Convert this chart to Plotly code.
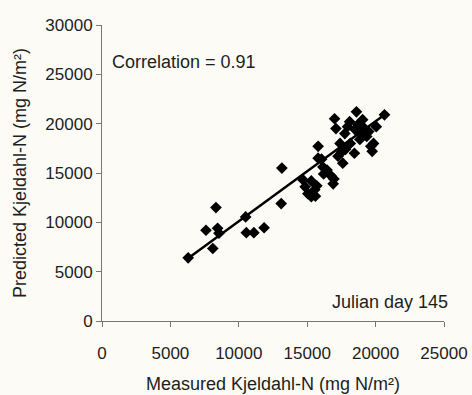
import plotly.graph_objects as go

# Measured vs predicted Kjeldahl-N (mg N/m²), Julian day 145
measured = [6300, 7600, 8330, 8100, 8450, 8550, 10500, 10550, 11100, 11850, 13150, 13100,
            14700, 14850, 15050, 15300, 15600, 15550, 15300, 15700, 15800, 15800, 16050,
            16150, 16200, 16450, 16750, 16900, 16950, 17000, 17100, 17250, 17400, 17500,
            17600, 17750, 17800, 17950, 18100, 18150, 18450, 18500, 18600, 18700, 18850,
            18950, 19050, 19200, 19350, 19500, 19650, 19750, 19850, 20050, 20650]
predicted = [6400, 9200, 11500, 7350, 9400, 8900, 10550, 8950, 8950, 9450, 15500, 11900,
             14300, 13600, 12900, 12600, 12650, 13300, 14200, 13700, 16500, 17700, 16400,
             15600, 14900, 15300, 14700, 13900, 14400, 20500, 19500, 16700, 18000, 17100,
             16000, 19000, 17400, 19700, 20200, 18000, 17000, 19400, 21200, 19900, 18400,
             19000, 20400, 19500, 18700, 19200, 17700, 17200, 18000, 19700, 20900]

fit_x = [6300, 20700]
fit_y = [6350, 20950]

x_ticks = [0, 5000, 10000, 15000, 20000, 25000]
y_ticks = [0, 5000, 10000, 15000, 20000, 25000, 30000]

bg = "#fcfbf5"
txt = "#1e1e1e"
axc = "#777777"
font_family = "Liberation Sans, Arial, sans-serif"

fig = go.Figure()
fig.add_trace(go.Scatter(x=fit_x, y=fit_y, mode="lines",
                         line=dict(color="black", width=2.5), showlegend=False,
                         hoverinfo="skip"))
fig.add_trace(go.Scatter(x=measured, y=predicted, mode="markers",
                         marker=dict(symbol="diamond", size=9, color="black"),
                         showlegend=False))

fig.update_layout(
    width=472, height=395,
    margin=dict(l=102, r=28, t=25, b=74),
    paper_bgcolor=bg, plot_bgcolor=bg,
    font=dict(family=font_family, size=17, color=txt),
    xaxis=dict(range=[0, 25000], tickvals=x_ticks, ticktext=[str(v) for v in x_ticks],
               showgrid=False, zeroline=False, showline=True, linecolor=axc, linewidth=1,
               ticks="outside", ticklen=5, tickcolor=axc, automargin=False,
               ticklabelstandoff=12,
               title=dict(text="Measured Kjeldahl-N (mg N/m²)", standoff=14,
                          font=dict(size=18, color=txt))),
    yaxis=dict(range=[0, 30000], tickvals=y_ticks, ticktext=[str(v) for v in y_ticks],
               showgrid=False, zeroline=False, showline=True, linecolor=axc, linewidth=1,
               ticks="outside", ticklen=5, tickcolor=axc, automargin=False,
               title=dict(text="Predicted Kjeldahl-N (mg N/m²)", standoff=14,
                          font=dict(size=18, color=txt))),
    annotations=[
        dict(text="Correlation = 0.91", xref="paper", yref="paper",
             x=(110 - 102) / 342, y=(321 - 62) / 296, xanchor="left", yanchor="middle",
             showarrow=False, font=dict(size=18, color=txt)),
        dict(text="Julian day 145", xref="paper", yref="paper",
             x=(450 - 102) / 342, y=(321 - 302) / 296, xanchor="right", yanchor="middle",
             showarrow=False, font=dict(size=18, color=txt)),
    ],
)

fig.write_html("out.html")
